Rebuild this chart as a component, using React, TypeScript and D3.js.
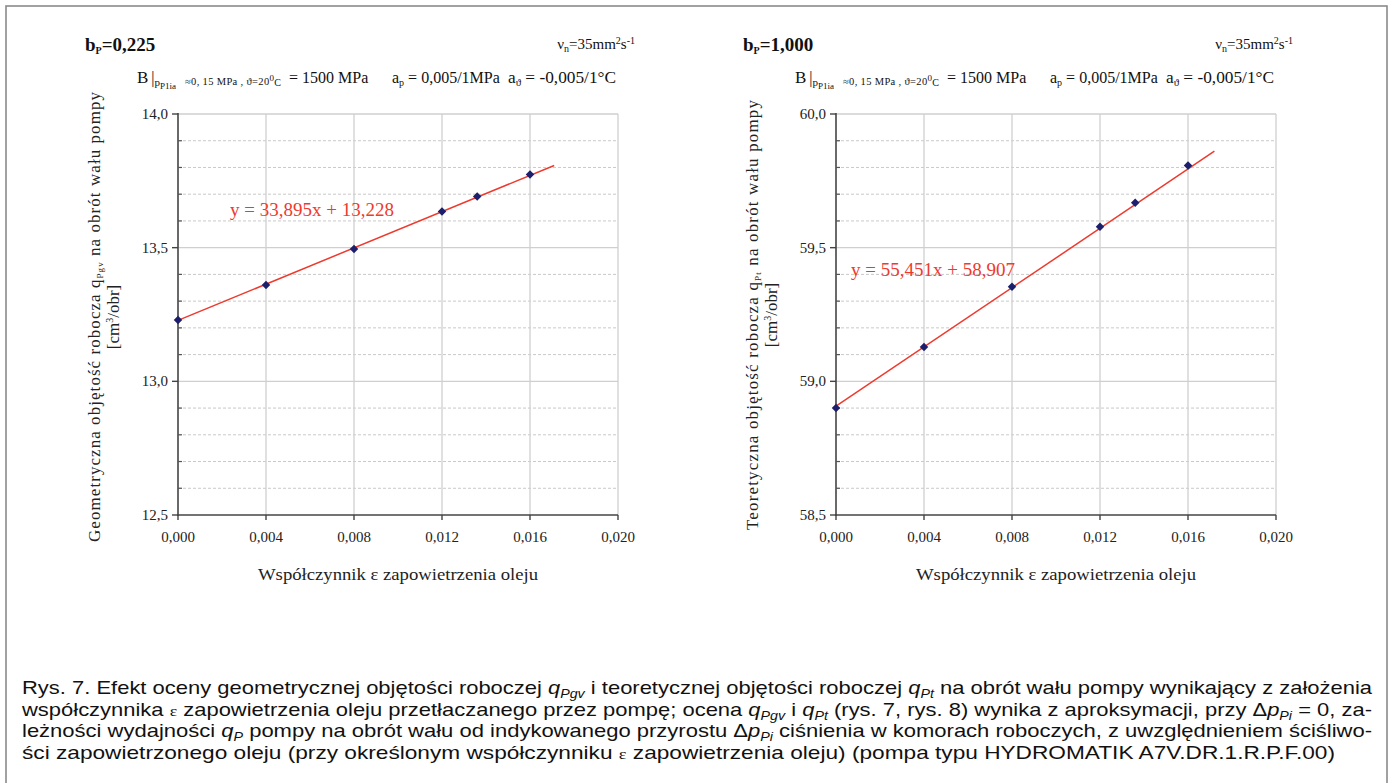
import React from "react";
import * as d3 from "d3";

// ---------- data ----------
const epsilon = [0, 0.004, 0.008, 0.012, 0.0136, 0.016];
const qPgv = [13.229, 13.360, 13.495, 13.635, 13.691, 13.774];
const qPt = [58.90, 59.128, 59.354, 59.578, 59.668, 59.807];
const xTicks = [0, 0.004, 0.008, 0.012, 0.016, 0.02];
const yTicksLeft = [12.5, 13.0, 13.5, 14.0];
const yTicksRight = [58.5, 59.0, 59.5, 60.0];
const trendSlope = [33.895, 55.451];
const trendIntercept = [13.228, 58.907];
const trendEnd = [0.0171, 0.0172];
const bpLabels = ["0,225", "1,000"];
const eqLabels = ["y = 33,895x + 13,228", "y = 55,451x + 58,907"];

const SERIF = "'Liberation Serif', 'Times New Roman', serif";
const SANS = "'Liberation Sans', Arial, sans-serif";

const fmt = (v: number, d: number) => d3.format(`.${d}f`)(v).replace(".", ",");

type PanelProps = {
  left: number;
  values: number[];
  yTicks: number[];
  idx: number;
  eqX: number;
  eqY: number;
  yLabel: "gv" | "t";
};

function Panel({ left, values, yTicks, idx, eqX, eqY, yLabel }: PanelProps) {
  const width = 440;
  const top = 114;
  const bottom = 515;
  const x = d3.scaleLinear().domain([0, 0.02]).range([left, left + width]);
  const y = d3.scaleLinear().domain([yTicks[0], yTicks[yTicks.length - 1]]).range([bottom, top]);
  const minor = d3
    .range(1, 15)
    .filter((i) => i % 5 !== 0)
    .map((i) => yTicks[0] + i * 0.1);
  const slope = trendSlope[idx];
  const icpt = trendIntercept[idx];
  const lineGen = d3.line<number>().x((d) => x(d)).y((d) => y(slope * d + icpt));
  const pts = epsilon.map((e, i) => ({ e, v: values[i] }));
  const marker = d3.symbol().type(d3.symbolSquare).size(36)() as string;
  const labelCx = left - 78;
  const labelCy = yLabel === "gv" ? 317 : 315;
  const bY = 83;

  return (
    <g>
      {/* header */}
      <text x={left - 93} y={51} fontFamily={SERIF} fontWeight="bold" fontSize={19} fill="#111">
        b<tspan fontSize={10} dy={3}>P</tspan>
        <tspan dy={-3}>={bpLabels[idx]}</tspan>
      </text>
      <text x={left + 457} y={49} fontFamily={SERIF} fontSize={15} fill="#111" textAnchor="end">
        ν<tspan fontSize={10} dy={3}>n</tspan>
        <tspan dy={-3}>=35mm</tspan>
        <tspan fontSize={10} dy={-5}>2</tspan>
        <tspan dy={5}>s</tspan>
        <tspan fontSize={10} dy={-5}>-1</tspan>
      </text>
      <g fontFamily={SERIF} fill="#111">
        <text x={left - 41} y={bY} fontSize={17}>
          B<tspan dx={3} fontSize={16}>|</tspan>
          <tspan fontSize={11} dy={3}>p</tspan>
          <tspan fontSize={9} dy={3}>P1ia</tspan>
        </text>
        <text x={left + 7} y={bY + 2} fontSize={10.5} textLength={96} lengthAdjust="spacing">
          ≈0, 15 MPa , ϑ=20<tspan fontSize={9} dy={-4}>0</tspan>
          <tspan fontSize={10} dy={5}>C</tspan>
        </text>
        <text x={left + 111} y={bY} fontSize={16}>= 1500 MPa</text>
        <text x={left + 214} y={bY} fontSize={16}>
          a<tspan fontSize={10} dy={3}>p</tspan>
          <tspan dy={-3}> = 0,005/1MPa</tspan>
        </text>
        <text x={left + 330} y={bY} fontSize={16} textLength={108} lengthAdjust="spacingAndGlyphs">
          a<tspan fontSize={10} dy={3}>ϑ</tspan>
          <tspan dy={-3}> = -0,005/1°C</tspan>
        </text>
      </g>

      {/* grid */}
      {minor.map((v) => (
        <line key={"m" + v} x1={left} x2={left + width} y1={y(v)} y2={y(v)} stroke="#c9c9c9" strokeWidth={1} strokeDasharray="3,2" />
      ))}
      {yTicks.slice(1).map((v) => (
        <line key={"M" + v} x1={left} x2={left + width} y1={y(v)} y2={y(v)} stroke="#cfcfcf" strokeWidth={1.3} />
      ))}
      {xTicks.slice(1).map((v) => (
        <line key={"v" + v} x1={x(v)} x2={x(v)} y1={top} y2={bottom} stroke="#cfcfcf" strokeWidth={1.3} />
      ))}

      {/* axes */}
      <line x1={left} x2={left} y1={top - 1} y2={bottom + 1} stroke="#444" strokeWidth={1.6} />
      <line x1={left - 1} x2={left + width} y1={bottom} y2={bottom} stroke="#444" strokeWidth={1.6} />
      {yTicks.map((v) => (
        <g key={"yt" + v}>
          <line x1={left - 6} x2={left} y1={y(v)} y2={y(v)} stroke="#444" strokeWidth={1.4} />
          <text x={left - 10} y={y(v) + 5} textAnchor="end" fontFamily={SERIF} fontSize={15} fill="#222">
            {fmt(v, 1)}
          </text>
        </g>
      ))}
      {minor.map((v) => (
        <line key={"mt" + v} x1={left} x2={left + 4} y1={y(v)} y2={y(v)} stroke="#555" strokeWidth={1.2} />
      ))}
      {xTicks.map((v) => (
        <g key={"xt" + v}>
          <line x1={x(v)} x2={x(v)} y1={bottom} y2={bottom + 5} stroke="#444" strokeWidth={1.4} />
          <text x={x(v)} y={bottom + 27} textAnchor="middle" fontFamily={SERIF} fontSize={15} fill="#222">
            {fmt(v, 3)}
          </text>
        </g>
      ))}

      {/* axis titles */}
      <text x={x(0.01)} y={580} textAnchor="middle" fontFamily={SERIF} fontSize={17} fill="#222" textLength={280} lengthAdjust="spacingAndGlyphs">
        Współczynnik ε zapowietrzenia oleju
      </text>
      <g transform={`translate(${labelCx},${labelCy}) rotate(-90)`}>
        {yLabel === "gv" ? (
          <text x={0} y={0} textAnchor="middle" fontFamily={SERIF} fontSize={17} fill="#222" textLength={450} lengthAdjust="spacing">
            Geometryczna objętość robocza q<tspan fontSize={9} dy={3}>Pgv</tspan>
            <tspan dy={-3}> na obrót wału pompy</tspan>
          </text>
        ) : (
          <text x={0} y={0} textAnchor="middle" fontFamily={SERIF} fontSize={17} fill="#222" textLength={430} lengthAdjust="spacing">
            Teoretyczna objętość robocza q<tspan fontSize={9} dy={3}>Pt</tspan>
            <tspan dy={-3}> na obrót wału pompy</tspan>
          </text>
        )}
        <text x={0} y={19} textAnchor="middle" fontFamily={SERIF} fontSize={17} fill="#222">
          [cm<tspan fontSize={10} dy={-6}>3</tspan>
          <tspan dy={6}>/obr]</tspan>
        </text>
      </g>

      {/* trend line */}
      <path d={lineGen([0, trendEnd[idx]]) as string} fill="none" stroke="#ee3a2e" strokeWidth={1.5} />
      <text x={eqX} y={eqY} fontFamily={SERIF} fontSize={18} fill="#ee3a2e" textLength={164} lengthAdjust="spacingAndGlyphs">
        {eqLabels[idx]}
      </text>

      {/* points */}
      {pts.map((p, i) => (
        <path key={"p" + i} d={marker} transform={`translate(${x(p.e)},${y(p.v)}) rotate(45)`} fill="#1c1f6b" />
      ))}
    </g>
  );
}

const captionLen = [1350, 1350, 1350, 1313];

function Q({ sub }: { sub: string }) {
  return (
    <>
      <tspan fontStyle="italic">q</tspan>
      <tspan fontStyle="italic" fontSize={12} dy={4}>{sub}</tspan>
    </>
  );
}
function DP() {
  return (
    <>
      Δ<tspan fontStyle="italic">p</tspan>
      <tspan fontStyle="italic" fontSize={12} dy={4}>Pi</tspan>
    </>
  );
}

export default function App() {
  const base = 694;
  const lh = 21.5;
  const cs = { fontFamily: SANS, fontSize: 18.5, fill: "#111" };
  return (
    <svg width={1392} height={783} style={{ position: "absolute", left: 0, top: 0, background: "#fff" }}>
      <rect x={0} y={0} width={1392} height={783} fill="#fff" />
      <rect x={6} y={6} width={1381} height={782} fill="none" stroke="#8a8a8a" strokeWidth={1.6} />

      <Panel left={178} values={qPgv} yTicks={yTicksLeft} idx={0} eqX={230} eqY={216} yLabel="gv" />
      <Panel left={836} values={qPt} yTicks={yTicksRight} idx={1} eqX={851} eqY={276} yLabel="t" />

      <text x={22} y={base} {...cs} textLength={captionLen[0]} lengthAdjust="spacingAndGlyphs">
        Rys. 7. Efekt oceny geometrycznej objętości roboczej <Q sub="Pgv" />
        <tspan dy={-4}> i teoretycznej objętości roboczej </tspan>
        <Q sub="Pt" />
        <tspan dy={-4}> na obrót wału pompy wynikający z założenia</tspan>
      </text>
      <text x={22} y={base + lh} {...cs} textLength={captionLen[1]} lengthAdjust="spacingAndGlyphs">
        współczynnika <tspan fontFamily={SERIF} fontSize={15}>ε</tspan> zapowietrzenia oleju przetłaczanego przez pompę; ocena <Q sub="Pgv" />
        <tspan dy={-4}> i </tspan>
        <Q sub="Pt" />
        <tspan dy={-4}> (rys. 7, rys. 8) wynika z aproksymacji, przy </tspan>
        <DP />
        <tspan dy={-4}> = 0, za-</tspan>
      </text>
      <text x={22} y={base + 2 * lh} {...cs} textLength={captionLen[2]} lengthAdjust="spacingAndGlyphs">
        leżności wydajności <Q sub="P" />
        <tspan dy={-4}> pompy na obrót wału od indykowanego przyrostu </tspan>
        <DP />
        <tspan dy={-4}> ciśnienia w komorach roboczych, z uwzględnieniem ściśliwo-</tspan>
      </text>
      <text x={22} y={base + 3 * lh} {...cs} textLength={captionLen[3]} lengthAdjust="spacingAndGlyphs">
        ści zapowietrzonego oleju (przy określonym współczynniku <tspan fontFamily={SERIF} fontSize={15}>ε</tspan> zapowietrzenia oleju) (pompa typu HYDROMATIK A7V.DR.1.R.P.F.00)
      </text>
    </svg>
  );
}
